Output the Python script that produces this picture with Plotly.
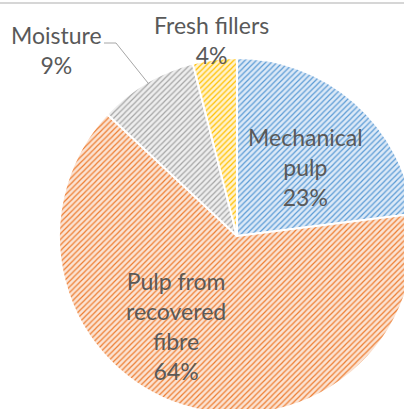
import plotly.graph_objects as go

labels = ["Mechanical pulp", "Pulp from recovered fibre", "Moisture", "Fresh fillers"]
label_lines = ["Mechanical<br>pulp", "Pulp from<br>recovered<br>fibre", "Moisture", "Fresh fillers"]
values = [23, 64, 9, 4]
stripe_colors = ["#5B9BD5", "#ED7D31", "#A5A5A5", "#FFC000"]
bg_colors = ["#DCE9F7", "#FBE3D3", "#EEEEEE", "#FFF2CC"]

W, H = 420, 420
def px(x): return x / W
def py(y): return 1 - y / H

cx, cy, r = 237, 236, 178

fig = go.Figure(go.Pie(
    labels=labels, values=values, sort=False, direction="clockwise", rotation=0,
    textinfo="none", hoverinfo="label+percent",
    marker=dict(colors=stripe_colors, line=dict(color="white", width=2),
                pattern=dict(shape="/", size=4, solidity=0.3, bgcolor=bg_colors, fillmode="replace")),
    domain=dict(x=[px(cx - r), px(cx + r)], y=[py(cy + r), py(cy - r)]),
    showlegend=False,
))

total = sum(values)
pct = [f"{round(v / total * 100)}%" for v in values]
font = dict(family="Lato", size=23, color="#595959")
positions = [(305, 167), (176, 326), (57, 50), (211, 40)]
for t, p, (x, y) in zip(label_lines, pct, positions):
    fig.add_annotation(x=px(x), y=py(y), xref="paper", yref="paper", text=f"{t}<br>{p}",
                       showarrow=False, font=font, xanchor="center", yanchor="middle")

fig.add_shape(type="path", xref="paper", yref="paper",
              path=f"M {px(104)} {py(43)} L {px(116)} {py(43)} L {px(148)} {py(83)}",
              line=dict(color="#A6A6A6", width=1))
fig.add_shape(type="rect", xref="paper", yref="paper", x0=-0.01, x1=1.01, y0=py(4), y1=py(2),
              fillcolor="#D6D6D6", line=dict(width=0), layer="above")

fig.update_layout(width=W, height=H, margin=dict(l=0, r=0, t=0, b=0),
                  paper_bgcolor="white", plot_bgcolor="white")
fig.write_html("out.html", config={"displayModeBar": False},
               post_script="document.body.style.margin='0';document.documentElement.style.overflow='hidden';")
